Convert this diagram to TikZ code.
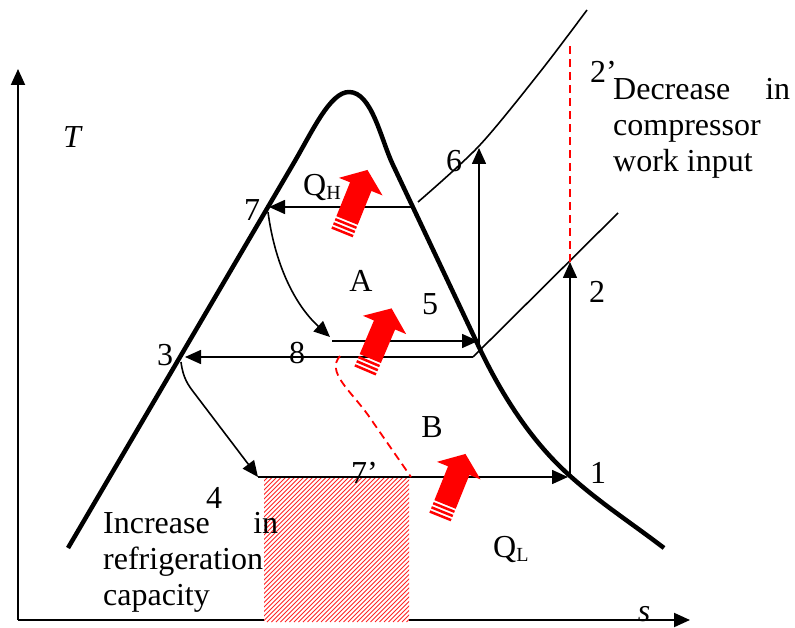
\documentclass[tikz,border=0pt]{standalone}
\usepackage{fontspec}
\setmainfont{Liberation Serif}
\usetikzlibrary{arrows.meta}
\tikzset{
  dome/.style={line width=4.5pt, line join=round},
  thinline/.style={line width=1.6pt},
  axisline/.style={line width=2pt},
  arr/.style={-{Triangle[length=16pt,width=14pt]}},
  lbl/.style={inner sep=0pt, anchor=base},
  lblw/.style={inner sep=0pt, anchor=base west},
  reddash/.style={red, line width=1.8pt, dash pattern=on 8pt off 5pt},
  hatchline/.style={red!85, line width=1.0pt},
  redarr/.pic={
    \fill[red] (13.5,-11.5) -- (50,-11.5) -- (50,-23.5) -- (68,0) -- (50,23.5) -- (50,11.5) -- (13.5,11.5) -- cycle;
    \fill[red] (0,-11.5) rectangle (2.5,11.5);
    \fill[red] (4.5,-11.5) rectangle (7,11.5);
    \fill[red] (9,-11.5) rectangle (11.5,11.5);
  }
}
\begin{document}
\begin{tikzpicture}[x=1pt,y=-1pt,font=\fontsize{32}{36}\selectfont]
\useasboundingbox (0,0) rectangle (795,628);
% coordinates
\coordinate (o) at (18,620);
\coordinate (ty) at (18,69);
\coordinate (sx) at (690,620);
\coordinate (c1) at (568,477);
\coordinate (c1b) at (570,477);
\coordinate (c2) at (570,262);
\coordinate (c2p) at (570,42);
\coordinate (c3) at (185,357);
\coordinate (c3s) at (181,362);
\coordinate (c4) at (258,477);
\coordinate (c7) at (269,207);
\coordinate (c7s) at (268,212);
\coordinate (c7r) at (412,207);
\coordinate (c8s) at (330,337);
\coordinate (c5a) at (332,341);
\coordinate (c5) at (478,341);
\coordinate (c5b) at (479,345);
\coordinate (c6) at (479,148);
\coordinate (c8r) at (473,357);
\coordinate (iso) at (618,213);
\coordinate (r1) at (340,356);
\coordinate (r2) at (411,477);
% axes
\draw[axisline, arr] (o) -- (ty);
\draw[axisline, arr] (o) -- (sx);
% saturation dome
\draw[dome] (68,548) -- (292.6,165) .. controls (312.6,131) and (330,92) .. (349,92)
  .. controls (372,92) and (381,140) .. (393,165) -- (478,345)
  .. controls (500,392) and (530,440) .. (569,475)
  .. controls (600,503) and (630,522) .. (664,548);
% hatched area
\fill[white] (264,477) rectangle (409,622);
\begin{scope}
  \clip (264,477) rectangle (409,622);
  \foreach \k in {0,...,67} \draw[hatchline] ({114+\k*4.5},622) -- ++(150,-150);
\end{scope}
% isobars and process lines
\draw[thinline] plot[smooth] coordinates {(418,202) (479,146) (540,72) (587,10)};
\draw[thinline] (c8r) -- (iso);
\draw[thinline, arr] (c7r) -- (c7);
\draw[thinline, arr] (c7s) .. controls (275,265) and (295,305) .. (c8s);
\draw[thinline, arr] (c5a) -- (c5);
\draw[thinline, arr] (c5b) -- (c6);
\draw[thinline, arr] (c8r) -- (c3);
\draw[thinline, arr] (c3s) .. controls (183,378) and (188,385) .. (195,394) -- (c4);
\draw[thinline, arr] (c4) -- (c1);
\draw[thinline, arr] (c1b) -- (c2);
% red dashed lines
\draw[reddash] (c2) -- (c2p);
\draw[reddash] (r1) .. controls (326,372) and (350,390) .. (368,415) -- (r2);
% red block arrows
\pic[rotate=68] at (342,233) {redarr};
\pic[rotate=67] at (365,371) {redarr};
\pic[rotate=68] at (440,517) {redarr};
% labels
\node[lbl] (l7) at (252,221) {7};
\node[lblw] (lQH) at (303,196) {Q\raisebox{-4pt}{\fontsize{20}{20}\selectfont H}};
\node[lbl] (lA) at (361,292) {A};
\node[lbl] (l5) at (430,315) {5};
\node[lbl] (l6) at (454,172) {6};
\node[lbl] (l3) at (165,365) {3};
\node[lbl] (l8) at (297,363) {8};
\node[lbl] (lB) at (432,437) {B};
\node[lblw] (l7p) at (351,483) {7’};
\node[lbl] (l4) at (214,508) {4};
\node[lbl] (l1) at (598,483) {1};
\node[lbl] (l2) at (597,302) {2};
\node[lblw] (l2p) at (590,83) {2’};
\node[lblw] (lQL) at (493,557) {Q\raisebox{-4pt}{\fontsize{20}{20}\selectfont L}};
\node[lbl] (lT) at (72,148) {\itshape T};
\node[lbl] (ls) at (644,621) {\itshape s};
\node[lblw] (dec) at (613,100) {\begin{tabular}[t]{@{}l@{}}\makebox[177pt][s]{Decrease in}\\compressor\\work input\end{tabular}};
\node[lblw] (inc) at (103,533) {\begin{tabular}[t]{@{}l@{}}\makebox[175pt][s]{Increase in}\\refrigeration\\capacity\end{tabular}};
\end{tikzpicture}
\end{document}
